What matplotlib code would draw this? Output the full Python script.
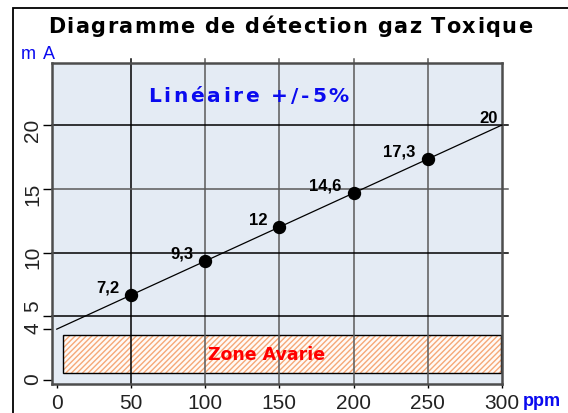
import matplotlib
matplotlib.use('Agg')
import matplotlib.pyplot as plt
from matplotlib.patches import Rectangle
from matplotlib.font_manager import FontProperties, findfont
from matplotlib.ft2font import FT2Font

ppm = [50, 100, 150, 200, 250]
mA = [6.67, 9.33, 12.0, 14.67, 17.33]
etiquettes = ['7,2', '9,3', '12', '14,6', '17,3']
droite_ppm = [0, 300]
droite_mA = [4, 20]
etiquette_fin = '20'
xticks = [0, 50, 100, 150, 200, 250, 300]
yticks = [0, 4, 5, 10, 15, 20]
zone_ppm = [4.3, 299]
zone_mA = [0.6, 3.55]

W, H = 568, 414
plt.rcParams['font.family'] = ['Liberation Sans', 'DejaVu Sans']
plt.rcParams['hatch.linewidth'] = 1.0

fig = plt.figure(figsize=(W / 100, H / 100), dpi=100)
ax = fig.add_axes([52 / W, 29 / H, 450 / W, 321 / H])
ax.set_xlim(-3.2, 300)
ax.set_ylim(-0.3, 24.86)
ax.set_facecolor('#e4ebf4')


def texte_espace(s, x_gauche, x_droite, base, taille, couleur, poids,
                 famille='DejaVu Sans'):
    # texte avec espacement des lettres (pas d'option dans matplotlib)
    fp = FontProperties(family=famille, weight=poids, size=taille)
    font = FT2Font(findfont(fp))
    font.set_size(taille, 100)
    avances = [font.load_char(ord(c)).linearHoriAdvance / 65536 for c in s]
    ecart = ((x_droite - x_gauche) - sum(avances)) / (len(s) - 1)
    x = x_gauche
    for c, a in zip(s, avances):
        fig.text(x / W, 1 - base / H, c, fontproperties=fp, color=couleur,
                 ha='left', va='baseline')
        x += a + ecart


# police etroite pour les valeurs si elle existe
try:
    findfont(FontProperties(family='Liberation Sans Narrow'), fallback_to_default=False)
    police_etq = dict(fontsize=13, fontweight='bold', family='Liberation Sans Narrow')
except ValueError:
    police_etq = dict(fontsize=12, fontweight='bold', family='Liberation Sans')

# grille
for x in xticks[1:-1]:
    ax.axvline(x, ymin=0, ymax=1.012, color='black' if x == 50 else '#5a5a5a',
               lw=1.1, clip_on=False, zorder=2)
for y in yticks[2:]:
    ax.axhline(y, xmin=0, xmax=1.014, color='#5a5a5a' if y == 15 else 'black',
               lw=1.1, clip_on=False, zorder=2)

# zone avarie
ax.add_patch(Rectangle((zone_ppm[0], zone_mA[0]), zone_ppm[1] - zone_ppm[0],
                       zone_mA[1] - zone_mA[0], facecolor='#fffaf6',
                       edgecolor='#f6a877', hatch='//////', lw=0, zorder=1))
ax.add_patch(Rectangle((zone_ppm[0], zone_mA[0]), zone_ppm[1] - zone_ppm[0],
                       zone_mA[1] - zone_mA[0], fill=False,
                       edgecolor='black', lw=1, zorder=1.5))
ax.text((zone_ppm[0] + zone_ppm[1]) / 2 - 10, sum(zone_mA) / 2, 'Zone Avarie',
        color='#ff0000', fontsize=12.5, fontweight='bold', family='DejaVu Sans',
        ha='center', va='center', zorder=5)

# droite et points
ax.plot(droite_ppm, droite_mA, color='black', lw=0.9, zorder=3, clip_on=False)
ax.plot(ppm, mA, 'o', color='black', ms=8.6, zorder=4)
for x, y, t in zip(ppm, mA, etiquettes):
    ax.annotate(t, (x, y), xytext=(-12, 8), textcoords='offset pixels',
                ha='right', va='center', **police_etq)
ax.annotate(etiquette_fin, (droite_ppm[-1], droite_mA[-1]), xytext=(-4, 8),
            textcoords='offset pixels', ha='right', va='center', **police_etq)

# axes
ax.set_xticks(xticks)
ax.set_yticks(yticks)
ax.set_yticklabels(['' if v == 5 else str(v) for v in yticks])
ax.tick_params(axis='x', direction='out', length=3, width=1, pad=3.5,
               labelsize=15, labelcolor='#222222')
ax.tick_params(axis='y', direction='out', length=6.5, width=1, pad=0.5,
               labelsize=15, labelcolor='#222222', labelrotation=90)
ax.annotate('5', (0, 5), xycoords=('axes fraction', 'data'), xytext=(-7, 7),
            textcoords='offset points', rotation=90, ha='right',
            va='center_baseline', fontsize=15, color='#222222')
for s in ax.spines.values():
    s.set_color('#4d4d4d')
    s.set_linewidth(1.8)
    s.set_zorder(2.5)

# textes
texte_espace('Diagramme de détection gaz Toxique', 48, 532, 33, 15, 'black', 'bold')
texte_espace('Linéaire +/-5%', 148, 349, 102, 14.5, '#0a0aef', 'bold')
texte_espace('mA', 21, 55, 59, 13, '#0a0aef', 'normal', 'Liberation Sans')
fig.text(523 / W, 1 - 406 / H, 'ppm', color='#0a0aef', fontsize=13,
         fontweight='bold', family='Liberation Sans', ha='left', va='baseline')

# cadre
fig.add_artist(Rectangle((13 / W, -0.5), 2, 1.5 - 9 / H, transform=fig.transFigure,
                         fill=False, edgecolor='black', lw=1.3))

fig.savefig('out.png', dpi=100)
